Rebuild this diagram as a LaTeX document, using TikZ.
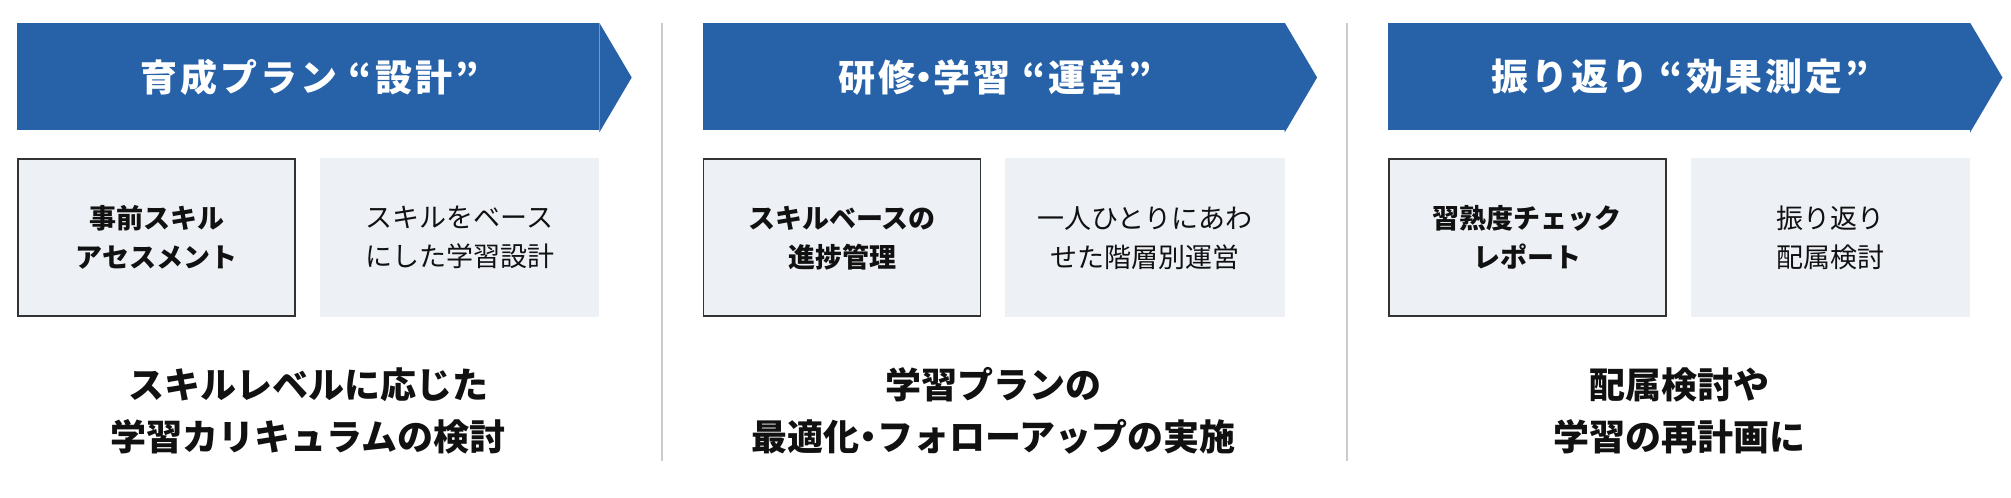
\documentclass[tikz,border=0pt]{standalone}
\usepackage{fontspec}
\setmainfont{Noto Sans CJK JP}
\newfontfamily\titlefont[LetterSpace=8]{Noto Sans CJK JP}
\definecolor{bannerblue}{HTML}{2762A8}
\definecolor{boxfill}{HTML}{EDF0F5}
\definecolor{boxline}{HTML}{333333}
\definecolor{divgray}{HTML}{CCCCCC}
\definecolor{inktext}{HTML}{111111}
\newcommand{\middot}{\kern-.25em・\kern-.25em}
\tikzset{
  banner/.style={fill=bannerblue, draw=none},
  titletxt/.style={text=white, font=\titlefont\fontsize{37}{40}\selectfont\bfseries, inner sep=0pt, anchor=center},
  boxa/.style={fill=boxfill, draw=boxline, line width=1.6pt, inner sep=0pt, align=center,
    minimum width=277pt, minimum height=157pt, text=inktext, font=\fontsize{27}{39}\selectfont\bfseries},
  boxb/.style={fill=boxfill, draw=none, inner sep=0pt, align=center,
    minimum width=279.3pt, minimum height=159pt, text=inktext, font=\fontsize{27}{39}\selectfont},
  bottomtxt/.style={align=center, inner sep=0pt, text=inktext, font=\fontsize{36}{52}\selectfont\bfseries},
  divider/.style={draw=divgray, line width=2pt},
}
\begin{document}
\begin{tikzpicture}[x=1pt,y=-1pt]
\useasboundingbox (0,0) rectangle (2011,498);
% ---------- section 1
\begin{scope}[xshift=0pt]
  \fill[banner] (17.3,22.7) rectangle (599.3,130);
  \fill[banner] (599.3,22.7) -- (631.7,77.5) -- (599.3,132.5) -- cycle;
  \node[titletxt] (t1) at (309.5,77) {育成プラン “設計”};
  \node[boxa] (a1) at (156.6,237.7) {事前スキル\\アセスメント};
  \node[boxb] (b1) at (459.65,237.8) {スキルをベース\\にした学習設計};
  \node[bottomtxt] (c1) at (308.3,411) {スキルレベルに応じた\\学習カリキュラムの検討};
\end{scope}
\coordinate (d1top) at (662,22.7);
\coordinate (d1bot) at (662,460.7);
\draw[divider] (d1top) -- (d1bot);
% ---------- section 2
\begin{scope}[xshift=685.4pt]
  \fill[banner] (17.3,22.7) rectangle (599.3,130);
  \fill[banner] (599.3,22.7) -- (631.7,77.5) -- (599.3,132.5) -- cycle;
  \node[titletxt] (t2) at (309.5,77) {研修\middot 学習 “運営”};
  \node[boxa] (a2) at (156.6,237.7) {スキルベースの\\進捗管理};
  \node[boxb] (b2) at (459.65,237.8) {一人ひとりにあわ\\せた階層別運営};
  \node[bottomtxt] (c2) at (308.3,411) {学習プランの\\最適化\middot フォローアップの実施};
\end{scope}
\coordinate (d2top) at (1347.4,22.7);
\coordinate (d2bot) at (1347.4,460.7);
\draw[divider] (d2top) -- (d2bot);
% ---------- section 3
\begin{scope}[xshift=1370.8pt]
  \fill[banner] (17.3,22.7) rectangle (599.3,130);
  \fill[banner] (599.3,22.7) -- (631.7,77.5) -- (599.3,132.5) -- cycle;
  \node[titletxt] (t3) at (309.5,77) {振り返り “効果測定”};
  \node[boxa] (a3) at (156.6,237.7) {習熟度チェック\\レポート};
  \node[boxb] (b3) at (459.65,237.8) {振り返り\\配属検討};
  \node[bottomtxt] (c3) at (308.3,411) {配属検討や\\学習の再計画に};
\end{scope}
\end{tikzpicture}
\end{document}
